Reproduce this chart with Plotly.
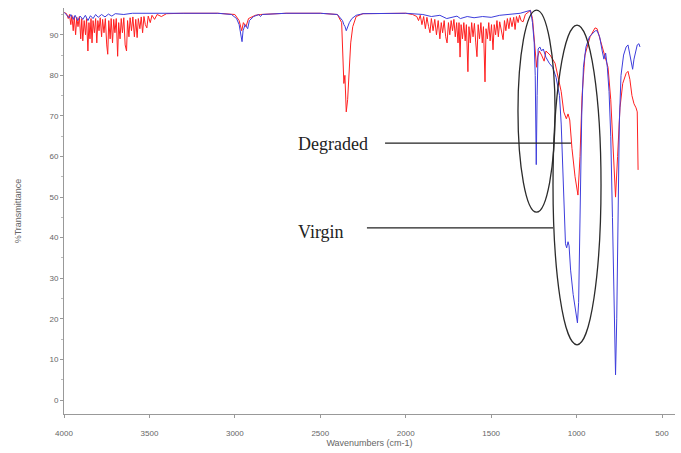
import plotly.graph_objects as go

# FTIR spectra: wavenumber (cm-1) and %Transmittance, virgin vs degraded sample
wn_degraded = [
    3998, 3985, 3975, 3968, 3960, 3954, 3946, 3940, 3932, 3925, 3918, 3910, 3902, 3896, 3890,
    3882, 3874, 3868, 3860, 3854, 3848, 3842, 3836, 3830, 3822, 3815, 3808, 3802, 3795, 3788,
    3780, 3774, 3766, 3758, 3750, 3744, 3738, 3730, 3724, 3716, 3709, 3702, 3694, 3686, 3680,
    3672, 3665, 3658, 3650, 3642, 3634, 3628, 3620, 3613, 3605, 3597, 3588, 3580, 3572, 3565,
    3556, 3548, 3540, 3532, 3524, 3515, 3507, 3495, 3485, 3470, 3455, 3430, 3400, 3300, 3100,
    3000, 2975, 2960, 2950, 2935, 2920, 2880, 2850, 2700, 2500, 2400, 2375, 2362, 2356, 2348,
    2340, 2332, 2322, 2310, 2290, 2250, 2100, 2000, 1960, 1935, 1925, 1915, 1905, 1895, 1885,
    1876, 1866, 1858, 1850, 1840, 1830, 1820, 1810, 1800, 1792, 1784, 1775, 1766, 1758, 1750,
    1742, 1734, 1726, 1718, 1710, 1702, 1694, 1688, 1682, 1676, 1668, 1660, 1652, 1645, 1636,
    1630, 1622, 1614, 1606, 1598, 1590, 1583, 1576, 1568, 1560, 1552, 1545, 1536, 1530, 1522,
    1514, 1506, 1498, 1489, 1482, 1474, 1466, 1458, 1450, 1440, 1430, 1422, 1414, 1405, 1396,
    1388, 1378, 1368, 1360, 1352, 1342, 1334, 1325, 1313, 1300, 1285, 1270, 1258, 1248, 1240,
    1234, 1228, 1218, 1205, 1190, 1179, 1155, 1126, 1109, 1090, 1075, 1060, 1050, 1040, 1027,
    1009, 992, 980, 968, 951, 921, 892, 880, 863, 839, 816, 800, 785, 772, 760,
    746, 730, 710, 699, 688, 676, 664, 652, 645, 640,
]
t_degraded = [
    95.5, 95.2, 94.0, 95.0, 92.5, 94.8, 91.0, 94.5, 90.0, 94.3, 92.0, 94.5, 89.0, 94.0, 88.5,
    93.5, 90.0, 94.0, 86.0, 93.0, 89.0, 94.0, 88.0, 93.5, 90.5, 94.0, 88.0, 93.5, 91.0, 94.2,
    89.5, 93.8, 90.5, 94.0, 87.5, 85.2, 93.5, 89.0, 94.0, 88.0, 93.8, 90.5, 94.0, 84.7, 93.0,
    89.0, 94.0, 90.5, 94.2, 87.5, 86.0, 93.5, 89.5, 94.2, 91.0, 94.4, 89.5, 93.8, 89.3, 94.0,
    91.5, 94.4, 90.5, 94.5, 92.5, 91.7, 94.6, 93.0, 94.8, 93.8, 95.0, 94.5, 95.2, 95.3, 95.3,
    95.0, 93.5, 91.0, 93.0, 92.0, 94.0, 94.8, 95.0, 95.3, 95.3, 95.0, 93.0, 78.0, 80.0, 71.0,
    74.0, 82.0, 88.0, 92.0, 94.5, 95.2, 95.3, 95.3, 95.0, 94.5, 93.5, 94.8, 92.5, 94.5, 91.5,
    94.3, 92.0, 90.5, 94.0, 91.0, 93.8, 90.0, 93.5, 89.0, 93.0, 90.5, 93.5, 89.5, 88.0, 93.0,
    90.0, 93.5, 91.0, 93.8, 89.5, 93.0, 88.0, 93.0, 84.5, 92.5, 89.0, 93.0, 88.5, 92.5, 80.9,
    92.0, 88.0, 93.0, 89.5, 92.8, 88.0, 84.6, 92.5, 89.0, 93.0, 88.0, 92.0, 78.4, 91.5, 89.0,
    93.0, 88.5, 92.5, 86.3, 92.5, 90.0, 93.5, 89.5, 93.2, 90.5, 88.8, 93.5, 91.0, 94.0, 91.5,
    94.2, 92.0, 94.3, 91.3, 94.5, 93.0, 94.8, 93.5, 93.2, 95.0, 95.5, 96.0, 94.0, 88.0, 83.0,
    82.0, 84.5, 86.0, 85.0, 83.5, 86.0, 85.0, 83.0, 80.0, 76.0, 71.0, 69.3, 70.5, 69.0, 62.0,
    55.0, 50.5, 60.0, 75.0, 85.0, 89.5, 91.7, 91.5, 89.0, 86.0, 82.0, 74.0, 60.0, 50.0, 60.0,
    72.0, 78.0, 80.5, 81.0, 79.0, 75.0, 73.0, 72.0, 71.0, 56.7,
]

wn_virgin = [
    3998, 3985, 3970, 3960, 3945, 3935, 3920, 3905, 3890, 3875, 3860, 3845, 3830, 3815, 3800,
    3780, 3760, 3740, 3720, 3700, 3650, 3600, 3500, 3300, 3100, 3020, 2990, 2975, 2965, 2958,
    2952, 2940, 2925, 2915, 2890, 2860, 2850, 2840, 2700, 2500, 2400, 2370, 2362, 2355, 2348,
    2340, 2330, 2315, 2290, 2250, 2000, 1900, 1850, 1800, 1760, 1700, 1680, 1640, 1600, 1550,
    1500, 1450, 1400, 1330, 1290, 1270, 1258, 1248, 1242, 1236, 1231, 1225, 1215, 1205, 1195,
    1180, 1160, 1140, 1120, 1100, 1090, 1080, 1072, 1065, 1058, 1050, 1044, 1035, 1020, 1005,
    995, 988, 980, 970, 960, 945, 925, 905, 890, 880, 865, 850, 840, 830, 820,
    810, 800, 790, 780, 772, 765, 758, 750, 740, 725, 710, 699, 690, 680, 672,
    664, 655, 645, 635, 629,
]
t_virgin = [
    95.5, 95.0, 94.2, 95.0, 93.8, 94.8, 93.5, 94.6, 93.8, 94.8, 93.5, 94.7, 94.0, 95.0, 94.3,
    95.0, 94.4, 95.1, 94.6, 95.2, 95.0, 95.3, 95.3, 95.4, 95.3, 95.0, 94.0, 92.5, 89.5, 88.3,
    91.0, 92.5, 91.5, 93.5, 94.5, 95.0, 94.5, 95.0, 95.3, 95.3, 95.0, 93.5, 92.5, 92.0, 91.0,
    92.0, 93.0, 94.0, 94.8, 95.2, 95.3, 95.0, 94.5, 94.8, 94.0, 94.6, 94.0, 94.5, 94.2, 94.5,
    94.3, 94.8, 95.0, 95.3, 95.8, 96.0, 93.0, 88.0, 80.0, 58.0, 75.0, 86.5, 87.0, 86.0, 86.5,
    84.5, 83.0, 82.0, 79.5, 75.0, 68.0, 55.0, 45.0, 38.5, 37.5, 39.0, 38.0, 32.0, 26.0, 21.0,
    19.0, 24.0, 45.0, 70.0, 82.0, 87.0, 89.5, 90.5, 91.0, 91.0, 89.5, 86.0, 84.0, 85.5, 82.0,
    76.0, 65.0, 45.0, 25.0, 6.2, 20.0, 45.0, 68.0, 80.0, 85.0, 87.0, 87.5, 85.5, 83.0, 81.5,
    84.0, 86.0, 87.5, 87.8, 87.0,
]

x_ticks = [4000, 3500, 3000, 2500, 2000, 1500, 1000, 500]
y_ticks = [0, 10, 20, 30, 40, 50, 60, 70, 80, 90]

# Callouts: label text, label position, leader line (wn start, wn end, T)
callout_labels = ["Degraded", "Virgin"]
callout_label_wn = [2425, 2496]
callout_label_t = [63.1, 41.4]
callout_line_wn0 = [2121, 2227]
callout_line_wn1 = [1033, 1138]
callout_line_t = [63.3, 42.4]

# Ellipses around the changed bands (wn left, wn right, T top, T bottom)
ellipse_wn0 = [1343, 1138]
ellipse_wn1 = [1126, 857]
ellipse_t0 = [96.1, 92.4]
ellipse_t1 = [46.3, 13.6]

fig = go.Figure()
fig.add_trace(go.Scatter(x=wn_degraded, y=t_degraded, mode="lines",
                         line=dict(color="#ff2020", width=1), name="Degraded"))
fig.add_trace(go.Scatter(x=wn_virgin, y=t_virgin, mode="lines",
                         line=dict(color="#3d3ddc", width=1), name="Virgin"))

for i in range(2):
    fig.add_shape(type="circle", xref="x", yref="y",
                  x0=ellipse_wn0[i], x1=ellipse_wn1[i],
                  y0=ellipse_t0[i], y1=ellipse_t1[i],
                  line=dict(color="#2b2b2b", width=1.3))
    fig.add_shape(type="line", xref="x", yref="y",
                  x0=callout_line_wn0[i], x1=callout_line_wn1[i],
                  y0=callout_line_t[i], y1=callout_line_t[i],
                  line=dict(color="#222222", width=1.2))
    fig.add_annotation(x=callout_label_wn[i], y=callout_label_t[i],
                       text=callout_labels[i], showarrow=False,
                       font=dict(family="Liberation Serif", size=18, color="#222222"),
                       bgcolor="white")

axis_font = dict(family="Liberation Sans", size=8, color="#666666")
fig.update_xaxes(range=[4000, 424], tickvals=x_ticks, ticktext=[str(v) for v in x_ticks],
                 showgrid=False, zeroline=False, showline=True, linecolor="#999999",
                 linewidth=1, ticks="outside", ticklen=3, tickcolor="#999999",
                 tickfont=axis_font, ticklabelstandoff=8,
                 title=dict(text="Wavenumbers (cm-1)", font=dict(family="Liberation Sans", size=9, color="#666666"),
                            standoff=2))
fig.update_yaxes(range=[-3.45, 96.6], tickvals=y_ticks, ticktext=[str(v) for v in y_ticks],
                 showgrid=False, zeroline=False, showline=True, linecolor="#999999",
                 linewidth=1, ticks="outside", ticklen=3, tickcolor="#999999",
                 minor=dict(ticks="outside", ticklen=2, dtick=5, tickcolor="#bbbbbb"),
                 tickfont=axis_font,
                 title=dict(text="%Transmittance", font=dict(family="Liberation Sans", size=9, color="#666666"),
                            standoff=26))
fig.update_layout(width=681, height=453, margin=dict(l=64, r=6, t=8, b=39),
                  paper_bgcolor="white", plot_bgcolor="white", showlegend=False)

fig.write_html("out.html")
